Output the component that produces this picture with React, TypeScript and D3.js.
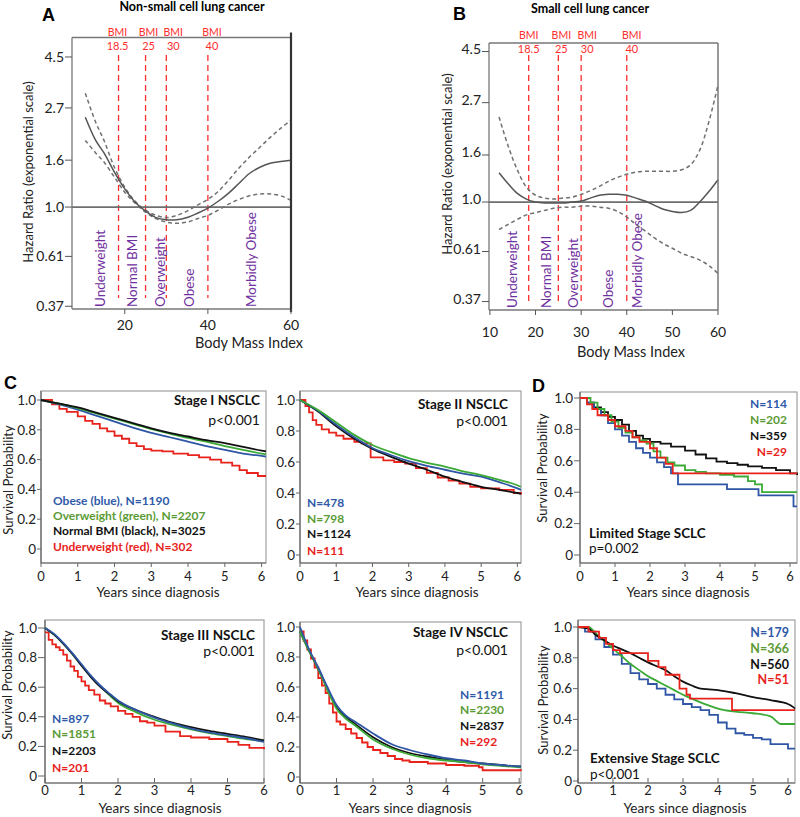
import React from "react";
import * as d3 from "d3";

const FONT = "Lato, 'Open Sans', 'DejaVu Sans', sans-serif";

// ---------------- Panels A / B: hazard ratio vs BMI ----------------
const hrTickValues = [0.37, 0.61, 1.0, 1.6, 2.7, 4.5];
const hrTickLabels = ["0.37", "0.61", "1.0", "1.6", "2.7", "4.5"];
const bmiTicksA = [20, 40, 60];
const bmiTicksB = [10, 20, 30, 40, 50, 60];
const bmiCutoffs = [18.5, 25, 30, 40];
const bmiCutoffLabels = ["18.5", "25", "30", "40"];
const bmiCategories = ["Underweight", "Normal BMI", "Overweight", "Obese", "Morbidly Obese"];
const categoryBmiA = [14.0, 21.9, 28.6, 35.6, 50.5];
const categoryBmiB = [14.8, 22.3, 28.2, 35.9, 42.3];

const nsclcBmi = [10.5, 13, 15, 17.5, 20, 22.5, 25, 27.5, 30, 32.5, 35, 37.5, 40, 42.5, 45, 47.5, 50, 52.5, 55, 57.5, 60];
const nsclcHr = [2.46, 1.95, 1.72, 1.42, 1.2, 1.05, 0.96, 0.9, 0.88, 0.88, 0.9, 0.94, 0.99, 1.06, 1.15, 1.27, 1.4, 1.49, 1.55, 1.58, 1.6];
const nsclcUpper = [3.13, 2.34, 1.95, 1.49, 1.22, 1.06, 0.97, 0.92, 0.9, 0.92, 0.96, 1.02, 1.08, 1.17, 1.31, 1.48, 1.65, 1.82, 2.01, 2.2, 2.39];
const nsclcLower = [1.95, 1.72, 1.57, 1.35, 1.16, 1.04, 0.95, 0.89, 0.86, 0.85, 0.86, 0.89, 0.92, 0.97, 1.03, 1.08, 1.12, 1.14, 1.14, 1.12, 1.07];

const sclcBmi = [12, 14, 16, 18, 20, 22, 24, 26, 28, 30, 32, 34, 36, 38, 40, 42, 44, 46, 48, 50, 52, 54, 56, 58, 60];
const sclcHr = [1.34, 1.2, 1.09, 1.03, 1.0, 0.99, 0.99, 0.99, 1.0, 1.01, 1.04, 1.07, 1.08, 1.08, 1.07, 1.04, 1.01, 0.97, 0.93, 0.91, 0.9, 0.92, 1.0, 1.11, 1.25];
const sclcUpper = [2.34, 1.75, 1.38, 1.16, 1.07, 1.04, 1.03, 1.04, 1.05, 1.08, 1.12, 1.17, 1.23, 1.28, 1.32, 1.35, 1.36, 1.36, 1.36, 1.36, 1.38, 1.45, 1.68, 2.23, 3.22];
const sclcLower = [0.76, 0.8, 0.84, 0.88, 0.9, 0.92, 0.94, 0.95, 0.95, 0.96, 0.96, 0.95, 0.94, 0.91, 0.86, 0.8, 0.75, 0.7, 0.66, 0.63, 0.6, 0.58, 0.56, 0.53, 0.49];

// ---------------- Panels C / D: Kaplan-Meier ----------------
const yearTicks = [0, 1, 2, 3, 4, 5, 6];
const survTicks = [0, 0.2, 0.4, 0.6, 0.8, 1.0];
const survTickLabels = ["0", "0.2", "0.4", "0.6", "0.8", "1.0"];

// Stage I NSCLC
const stage1Years = [0, 0.5, 1, 1.5, 2, 2.5, 3, 3.5, 4, 4.5, 5, 5.5, 6, 6.12];
const stage1Black = [1, 0.975, 0.95, 0.915, 0.88, 0.845, 0.81, 0.78, 0.755, 0.73, 0.71, 0.685, 0.66, 0.655];
const stage1Green = [1, 0.975, 0.945, 0.91, 0.875, 0.84, 0.805, 0.775, 0.745, 0.72, 0.69, 0.665, 0.64, 0.635];
const stage1Blue = [1, 0.97, 0.935, 0.895, 0.855, 0.815, 0.78, 0.75, 0.72, 0.69, 0.665, 0.64, 0.625, 0.62];
const stage1RedYears = [0, 0.3, 0.5, 0.7, 1.0, 1.2, 1.4, 1.6, 1.8, 2.0, 2.2, 2.4, 2.6, 2.8, 3.0, 3.3, 3.6, 4.0, 4.3, 4.6, 4.9, 5.2, 5.4, 5.6, 5.9, 6.12];
const stage1Red = [1, 0.97, 0.94, 0.92, 0.89, 0.86, 0.84, 0.81, 0.79, 0.76, 0.74, 0.71, 0.69, 0.67, 0.66, 0.655, 0.64, 0.63, 0.615, 0.6, 0.58, 0.56, 0.53, 0.51, 0.49, 0.49];

// Stage II NSCLC
const stage2Years = [0, 0.5, 1, 1.5, 2, 2.5, 3, 3.5, 4, 4.5, 5, 5.5, 6, 6.1];
const stage2Green = [1, 0.935, 0.855, 0.775, 0.71, 0.665, 0.625, 0.595, 0.57, 0.54, 0.515, 0.485, 0.45, 0.44];
const stage2Blue = [1, 0.93, 0.84, 0.76, 0.69, 0.645, 0.605, 0.575, 0.55, 0.525, 0.505, 0.47, 0.43, 0.42];
const stage2Black = [1, 0.925, 0.83, 0.75, 0.685, 0.635, 0.59, 0.55, 0.505, 0.47, 0.44, 0.42, 0.4, 0.395];
const stage2RedYears = [0, 0.15, 0.25, 0.35, 0.45, 0.6, 0.8, 1.0, 1.2, 1.5, 1.7, 1.95, 2.3, 2.6, 2.9, 3.2, 3.5, 3.8, 4.1, 4.4, 4.7, 5.0, 5.5, 5.9, 6.1];
const stage2Red = [1, 0.96, 0.92, 0.87, 0.84, 0.81, 0.79, 0.77, 0.75, 0.73, 0.72, 0.63, 0.61, 0.6, 0.59, 0.56, 0.53, 0.5, 0.48, 0.46, 0.44, 0.43, 0.42, 0.4, 0.39];

// Stage III NSCLC
const stage3Years = [0, 0.25, 0.5, 0.75, 1, 1.25, 1.5, 1.75, 2, 2.5, 3, 3.5, 4, 4.5, 5, 5.5, 6];
const stage3Blue = [1, 0.96, 0.9, 0.83, 0.755, 0.68, 0.615, 0.56, 0.51, 0.445, 0.395, 0.355, 0.32, 0.295, 0.275, 0.255, 0.23];
const stage3Green = [1, 0.955, 0.895, 0.825, 0.75, 0.675, 0.61, 0.55, 0.495, 0.43, 0.38, 0.345, 0.315, 0.29, 0.27, 0.25, 0.235];
const stage3Black = [1, 0.955, 0.895, 0.825, 0.745, 0.67, 0.605, 0.555, 0.505, 0.445, 0.4, 0.36, 0.33, 0.305, 0.285, 0.265, 0.24];
const stage3RedYears = [0, 0.1, 0.2, 0.3, 0.4, 0.5, 0.6, 0.7, 0.8, 0.9, 1.0, 1.1, 1.2, 1.35, 1.5, 1.65, 1.8, 2.0, 2.2, 2.4, 2.6, 2.8, 3.0, 3.3, 3.7, 4.0, 4.5, 5.0, 5.3, 5.6, 6.0];
const stage3Red = [0.97, 0.92, 0.89, 0.87, 0.85, 0.82, 0.78, 0.74, 0.71, 0.67, 0.64, 0.61, 0.58, 0.55, 0.51, 0.49, 0.47, 0.44, 0.42, 0.4, 0.37, 0.36, 0.34, 0.3, 0.27, 0.26, 0.25, 0.23, 0.21, 0.19, 0.18];

// Stage IV NSCLC
const stage4Years = [0, 0.25, 0.5, 0.75, 1, 1.25, 1.5, 2, 2.5, 3, 3.5, 4, 4.5, 5, 5.5, 6, 6.05];
const stage4Blue = [1, 0.85, 0.73, 0.6, 0.48, 0.41, 0.37, 0.29, 0.22, 0.18, 0.15, 0.125, 0.11, 0.09, 0.08, 0.07, 0.07];
const stage4Green = [0.97, 0.84, 0.72, 0.58, 0.455, 0.39, 0.345, 0.25, 0.19, 0.15, 0.125, 0.11, 0.1, 0.085, 0.075, 0.065, 0.065];
const stage4Black = [0.97, 0.84, 0.72, 0.59, 0.465, 0.4, 0.355, 0.265, 0.2, 0.16, 0.135, 0.115, 0.1, 0.09, 0.08, 0.07, 0.07];
const stage4RedYears = [0, 0.1, 0.2, 0.3, 0.4, 0.5, 0.6, 0.7, 0.8, 0.9, 1.0, 1.1, 1.25, 1.4, 1.55, 1.7, 1.85, 2.0, 2.2, 2.4, 2.6, 2.8, 3.0, 3.5, 4.0, 4.5, 4.9, 5.0, 6.05];
const stage4Red = [0.97, 0.91, 0.85, 0.79, 0.73, 0.66, 0.61, 0.56, 0.49, 0.43, 0.37, 0.35, 0.32, 0.29, 0.26, 0.23, 0.2, 0.18, 0.16, 0.14, 0.12, 0.11, 0.1, 0.09, 0.08, 0.075, 0.065, 0.045, 0.04];

// Limited stage SCLC
const limitedBlackYears = [0, 0.2, 0.4, 0.6, 0.8, 1.0, 1.2, 1.4, 1.6, 1.8, 2.0, 2.3, 2.6, 3.0, 3.3, 3.6, 3.9, 4.2, 4.5, 4.8, 5.2, 5.6, 6.0, 6.2];
const limitedBlack = [1, 0.97, 0.94, 0.91, 0.88, 0.86, 0.83, 0.79, 0.76, 0.74, 0.72, 0.71, 0.69, 0.665, 0.64, 0.615, 0.595, 0.585, 0.575, 0.565, 0.555, 0.54, 0.52, 0.51];
const limitedRedYears = [0, 0.2, 0.35, 0.5, 0.8, 1.0, 1.3, 1.5, 1.7, 2.0, 2.2, 2.45, 2.65, 6.2];
const limitedRed = [1, 0.96, 0.93, 0.89, 0.86, 0.82, 0.79, 0.75, 0.72, 0.68, 0.62, 0.58, 0.52, 0.52];
const limitedGreenYears = [0, 0.3, 0.5, 0.7, 0.9, 1.1, 1.3, 1.5, 1.7, 1.9, 2.1, 2.3, 2.5, 2.7, 3.0, 3.3, 3.6, 4.0, 4.4, 4.8, 5.0, 5.2, 6.2];
const limitedGreen = [1, 0.97, 0.93, 0.89, 0.85, 0.81, 0.78, 0.75, 0.73, 0.71, 0.66, 0.62, 0.59, 0.57, 0.54, 0.53, 0.52, 0.51, 0.5, 0.47, 0.45, 0.4, 0.4];
const limitedBlueYears = [0, 0.2, 0.4, 0.6, 0.8, 1.0, 1.2, 1.4, 1.6, 1.8, 2.0, 2.2, 2.4, 2.6, 2.8, 4.2, 5.1, 6.1, 6.2];
const limitedBlue = [1, 0.97, 0.93, 0.89, 0.84, 0.8, 0.76, 0.72, 0.68, 0.65, 0.62, 0.59, 0.56, 0.52, 0.45, 0.42, 0.38, 0.31, 0.31];

// Extensive stage SCLC
const extBlackYears = [0, 0.3, 0.5, 0.7, 1, 1.25, 1.5, 1.75, 2, 2.25, 2.5, 2.75, 3, 3.25, 3.5, 3.75, 4, 4.5, 5, 5.5, 6, 6.15, 6.2];
const extBlack = [1, 0.99, 0.95, 0.92, 0.88, 0.855, 0.83, 0.8, 0.77, 0.745, 0.72, 0.68, 0.645, 0.62, 0.6, 0.595, 0.59, 0.57, 0.545, 0.525, 0.5, 0.48, 0.47];
const extRedYears = [0, 0.3, 0.6, 0.8, 1.0, 1.2, 2.0, 2.3, 2.5, 2.9, 3.1, 3.2, 4.4, 6.2];
const extRed = [1, 0.97, 0.93, 0.89, 0.85, 0.83, 0.78, 0.74, 0.69, 0.6, 0.56, 0.535, 0.46, 0.46];
const extGreenYears = [0, 0.3, 0.5, 0.75, 1, 1.25, 1.5, 1.75, 2, 2.25, 2.5, 2.75, 3, 3.25, 3.5, 3.75, 4, 4.5, 5, 5.5, 5.8, 6.2];
const extGreen = [1, 1, 0.96, 0.91, 0.86, 0.81, 0.76, 0.72, 0.68, 0.65, 0.62, 0.59, 0.56, 0.535, 0.51, 0.49, 0.47, 0.45, 0.44, 0.42, 0.37, 0.37];
const extBlueYears = [0, 0.2, 0.5, 0.75, 1, 1.25, 1.5, 1.75, 2, 2.25, 2.5, 2.75, 3, 3.25, 3.5, 3.75, 4, 4.25, 4.5, 4.75, 5, 5.25, 5.5, 6, 6.2];
const extBlue = [1, 0.97, 0.92, 0.87, 0.82, 0.76, 0.7, 0.66, 0.63, 0.6, 0.56, 0.53, 0.5, 0.48, 0.46, 0.43, 0.38, 0.34, 0.31, 0.3, 0.28, 0.27, 0.24, 0.21, 0.21];

// ---------------- styles ----------------
const C_BLUE = "#2f56a5";
const C_GREEN = "#3aa935";
const C_BLACK = "#111111";
const C_RED = "#e8231c";
const T_BLUE = "#2f5aa8";
const T_GREEN = "#5b9b35";
const T_RED = "#e8231c";
const PURPLE = "#7030a0";
const BMI_RED = "#ff2e2e";

const zip = (a: number[], b: number[]) => a.map((v, i) => [v, b[i]] as [number, number]);

type HazSpec = {
  left: number; right: number; top: number; bottom: number;
  xDomain: [number, number]; yDomain: [number, number];
  xTicks: number[]; bmi: number[]; hr: number[]; upper: number[]; lower: number[];
  catPos: number[]; bmiLabelY: number; cutTop: number; cutBottom: number; labelDx: number[];
  tickLabelDy: number; xLabelY: number; xTitleX: number; xTitleY: number;
  yTitleX: number; yTitleY: number; thickRight: boolean;
};

function HazardPanel({ s }: { s: HazSpec }) {
  const x = d3.scaleLinear().domain(s.xDomain).range([s.left, s.right]);
  const y = d3.scaleLog().domain(s.yDomain).range([s.bottom, s.top]);
  const line = d3.line<[number, number]>().x(d => x(d[0])).y(d => y(d[1])).curve(d3.curveCatmullRom);
  return (
    <g>
      {bmiCutoffs.map((c, i) => (
        <g key={"c" + i}>
          <line x1={x(c)} x2={x(c)} y1={s.cutTop} y2={s.cutBottom} stroke={BMI_RED} strokeWidth={1.3} strokeDasharray="6,4" />
          <text x={x(c) + s.labelDx[i]} y={s.bmiLabelY} textAnchor="middle" fontSize={10.5} fill={BMI_RED}>BMI</text>
          <text x={x(c) + s.labelDx[i]} y={s.bmiLabelY + 14} textAnchor="middle" fontSize={11} fill={BMI_RED}>{bmiCutoffLabels[i]}</text>
        </g>
      ))}
      {bmiCategories.map((t, i) => (
        <text key={"k" + i} transform={`translate(${x(s.catPos[i])},${s.bottom - 2}) rotate(-90)`} dy="0.35em" fontSize={13.5} fill={PURPLE}>{t}</text>
      ))}
      <line x1={s.left} x2={s.right} y1={y(1)} y2={y(1)} stroke="#6e6e6e" strokeWidth={1.8} />
      <path d={line(zip(s.bmi, s.upper)) || ""} fill="none" stroke="#707070" strokeWidth={1.5} strokeDasharray="4,3" />
      <path d={line(zip(s.bmi, s.lower)) || ""} fill="none" stroke="#707070" strokeWidth={1.5} strokeDasharray="4,3" />
      <path d={line(zip(s.bmi, s.hr)) || ""} fill="none" stroke="#555" strokeWidth={1.5} />
      <line x1={s.left} x2={s.right} y1={s.top} y2={s.top} stroke="#777" strokeWidth={1.3} />
      <line x1={s.left} x2={s.left} y1={s.top} y2={s.bottom} stroke="#777" strokeWidth={1.3} />
      <line x1={s.left} x2={s.right} y1={s.bottom} y2={s.bottom} stroke="#777" strokeWidth={1.3} />
      <line x1={s.right} x2={s.right} y1={s.thickRight ? s.top - 5 : s.top} y2={s.bottom + (s.thickRight ? 3 : 0)} stroke={s.thickRight ? "#333" : "#777"} strokeWidth={s.thickRight ? 2.2 : 1.5} />
      {hrTickValues.map((v, i) => (
        <g key={"y" + i}>
          <line x1={s.left - 7} x2={s.left} y1={y(v)} y2={y(v)} stroke="#555" />
          <text x={s.left - 8} y={y(v) + s.tickLabelDy} textAnchor="end" fontSize={14} fill="#222">{hrTickLabels[i]}</text>
        </g>
      ))}
      {s.xTicks.map((v, i) => (
        <g key={"x" + i}>
          <line x1={x(v)} x2={x(v)} y1={s.bottom} y2={s.bottom + 5} stroke="#555" />
          <text x={x(v)} y={s.xLabelY} textAnchor="middle" fontSize={14} fill="#222">{v}</text>
        </g>
      ))}
      <text x={s.xTitleX} y={s.xTitleY} textAnchor="middle" fontSize={14.5} fill="#222">Body Mass Index</text>
      <text transform={`translate(${s.yTitleX},${s.yTitleY}) rotate(-90)`} textAnchor="middle" dy="0.35em" fontSize={13} fill="#222">Hazard Ratio (exponential scale)</text>
    </g>
  );
}

type Curve = { years: number[]; surv: number[]; color: string; step: boolean };
type Label = { text: string; x: number; y: number; anchor?: "start" | "end" | "middle"; bold?: boolean; size?: number; color?: string };
type KMSpec = {
  left: number; right: number; top: number; bottom: number; y1: number; y0: number; xMax: number;
  row: "top" | "bottom"; xTitleX: number; yTitle?: [number, number]; curves: Curve[]; labels: Label[];
  yLabelRight: number;
};

function KMPanel({ s }: { s: KMSpec }) {
  const x = d3.scaleLinear().domain([0, s.xMax]).range([s.left, s.right]);
  const y = d3.scaleLinear().domain([0, 1]).range([s.y0, s.y1]);
  const isTop = s.row === "top";
  const tickLabelY = isTop ? s.bottom + 18 : s.bottom + 12;
  const titleY = isTop ? s.bottom + 34 : s.bottom + 30;
  return (
    <g>
      <rect x={s.left} y={s.top} width={s.right - s.left} height={s.bottom - s.top} fill="none" stroke="#a0a0a0" strokeWidth={1.2} />
      <line x1={s.left} x2={s.left} y1={s.top} y2={s.bottom} stroke="#666" strokeWidth={1.2} />
      <line x1={s.left} x2={s.right} y1={s.bottom} y2={s.bottom} stroke="#666" strokeWidth={1.2} />
      {survTicks.map((v, i) => (
        <g key={"y" + i}>
          <line x1={s.yLabelRight + 1} x2={s.left} y1={y(v)} y2={y(v)} stroke="#666" />
          <text x={s.yLabelRight} y={y(v)} dy="0.35em" textAnchor="end" fontSize={13.5} fill="#222">{survTickLabels[i]}</text>
        </g>
      ))}
      {yearTicks.map((v, i) => (
        <g key={"x" + i}>
          <line x1={x(v)} x2={x(v)} y1={s.bottom} y2={isTop ? s.bottom + 4 : s.bottom - 5} stroke="#666" />
          <text x={x(v)} y={tickLabelY} textAnchor="middle" fontSize={13} fill="#222">{v}</text>
        </g>
      ))}
      <text x={s.xTitleX} y={titleY} textAnchor="middle" fontSize={13.5} fill="#222">Years since diagnosis</text>
      {s.yTitle && (
        <text transform={`translate(${s.yTitle[0]},${s.yTitle[1]}) rotate(-90)`} textAnchor="middle" dy="0.35em" fontSize={13} fill="#222">Survival Probability</text>
      )}
      {s.curves.map((c, i) => {
        const gen = d3.line<[number, number]>().x(d => x(d[0])).y(d => y(d[1])).curve(c.step ? d3.curveStepAfter : d3.curveMonotoneX);
        return <path key={"c" + i} d={gen(zip(c.years, c.surv)) || ""} fill="none" stroke={c.color} strokeWidth={1.8} />;
      })}
      {s.labels.map((l, i) => (
        <text key={"l" + i} x={l.x} y={l.y} textAnchor={l.anchor || "start"} fontWeight={l.bold ? 700 : 400} fontSize={l.size || 12} fill={l.color || "#111"}>{l.text}</text>
      ))}
    </g>
  );
}

const hazA: HazSpec = {
  left: 72, right: 291, top: 37.5, bottom: 309, xDomain: [7.3, 60], yDomain: [0.36, 5.47],
  xTicks: bmiTicksA, bmi: nsclcBmi, hr: nsclcHr, upper: nsclcUpper, lower: nsclcLower,
  catPos: categoryBmiA, bmiLabelY: 36, cutTop: 55, cutBottom: 298, labelDx: [-1, 3, 7, 4], tickLabelDy: 5,
  xLabelY: 330, xTitleX: 249, xTitleY: 348, yTitleX: 28, yTitleY: 172, thickRight: true,
};
const hazB: HazSpec = {
  left: 489, right: 718, top: 43, bottom: 310, xDomain: [9.8, 60], yDomain: [0.34, 4.9],
  xTicks: bmiTicksB, bmi: sclcBmi, hr: sclcHr, upper: sclcUpper, lower: sclcLower,
  catPos: categoryBmiB, bmiLabelY: 39, cutTop: 55, cutBottom: 303, labelDx: [0, 3, 6, 5], tickLabelDy: 2,
  xLabelY: 337, xTitleX: 631, xTitleY: 357, yTitleX: 447, yTitleY: 164, thickRight: false,
};

const bold = (text: string, x: number, y: number, color: string, anchor: "start" | "end" = "start", size = 12): Label => ({ text, x, y, color, anchor, bold: true, size });

const kmPanels: KMSpec[] = [
  {
    left: 41, right: 266, top: 391, bottom: 563, y1: 400, y0: 549, xMax: 6.12, row: "top", xTitleX: 158, yTitle: [8, 480], yLabelRight: 36,
    curves: [
      { years: stage1RedYears, surv: stage1Red, color: C_RED, step: true },
      { years: stage1Years, surv: stage1Blue, color: C_BLUE, step: false },
      { years: stage1Years, surv: stage1Green, color: C_GREEN, step: false },
      { years: stage1Years, surv: stage1Black, color: C_BLACK, step: false },
    ],
    labels: [
      bold("Stage I NSCLC", 260, 405, "#111", "end", 13.5),
      { text: "p<0.001", x: 260, y: 425, anchor: "end", size: 14 },
      bold("Obese (blue), N=1190", 53, 505, T_BLUE),
      bold("Overweight (green), N=2207", 53, 520, T_GREEN),
      bold("Normal BMI (black), N=3025", 53, 535, "#111"),
      bold("Underweight (red), N=302", 53, 551, T_RED),
    ],
  },
  {
    left: 300, right: 521, top: 391, bottom: 563, y1: 400, y0: 555, xMax: 6.1, row: "top", xTitleX: 417, yLabelRight: 295,
    curves: [
      { years: stage2RedYears, surv: stage2Red, color: C_RED, step: true },
      { years: stage2Years, surv: stage2Black, color: C_BLACK, step: false },
      { years: stage2Years, surv: stage2Blue, color: C_BLUE, step: false },
      { years: stage2Years, surv: stage2Green, color: C_GREEN, step: false },
    ],
    labels: [
      bold("Stage II NSCLC", 508, 409, "#111", "end", 13.5),
      { text: "p<0.001", x: 508, y: 426, anchor: "end", size: 14 },
      bold("N=478", 307, 507, T_BLUE),
      bold("N=798", 307, 523, T_GREEN),
      bold("N=1124", 307, 538, "#111"),
      bold("N=111", 307, 555, T_RED),
    ],
  },
  {
    left: 580, right: 797, top: 392, bottom: 563, y1: 398, y0: 555, xMax: 6.2, row: "top", xTitleX: 688, yTitle: [542, 468], yLabelRight: 573,
    curves: [
      { years: limitedBlackYears, surv: limitedBlack, color: C_BLACK, step: true },
      { years: limitedBlueYears, surv: limitedBlue, color: C_BLUE, step: true },
      { years: limitedGreenYears, surv: limitedGreen, color: C_GREEN, step: true },
      { years: limitedRedYears, surv: limitedRed, color: C_RED, step: true },
    ],
    labels: [
      bold("N=114", 787, 408, T_BLUE, "end"),
      bold("N=202", 787, 424, T_GREEN, "end"),
      bold("N=359", 787, 440, "#111", "end"),
      bold("N=29", 787, 456, T_RED, "end"),
      bold("Limited Stage SCLC", 589, 538, "#111", "start", 13.5),
      { text: "p=0.002", x: 589, y: 553, size: 13.5 },
    ],
  },
  {
    left: 45, right: 264, top: 620, bottom: 783, y1: 628, y0: 776, xMax: 6.0, row: "bottom", xTitleX: 160, yTitle: [7, 685], yLabelRight: 37,
    curves: [
      { years: stage3RedYears, surv: stage3Red, color: C_RED, step: true },
      { years: stage3Years, surv: stage3Green, color: C_GREEN, step: false },
      { years: stage3Years, surv: stage3Black, color: C_BLACK, step: false },
      { years: stage3Years, surv: stage3Blue, color: C_BLUE, step: false },
    ],
    labels: [
      bold("Stage III NSCLC", 255, 640, "#111", "end", 13.5),
      { text: "p<0.001", x: 255, y: 656, anchor: "end", size: 14 },
      bold("N=897", 52, 723, T_BLUE),
      bold("N=1851", 52, 738, T_GREEN),
      bold("N=2203", 52, 755, "#111"),
      bold("N=201", 52, 772, T_RED),
    ],
  },
  {
    left: 300, right: 521, top: 622, bottom: 783, y1: 627, y0: 777, xMax: 6.05, row: "bottom", xTitleX: 410, yLabelRight: 295,
    curves: [
      { years: stage4RedYears, surv: stage4Red, color: C_RED, step: true },
      { years: stage4Years, surv: stage4Black, color: C_BLACK, step: false },
      { years: stage4Years, surv: stage4Green, color: C_GREEN, step: false },
      { years: stage4Years, surv: stage4Blue, color: C_BLUE, step: false },
    ],
    labels: [
      bold("Stage IV NSCLC", 508, 637, "#111", "end", 13.5),
      { text: "p<0.001", x: 508, y: 655, anchor: "end", size: 14 },
      bold("N=1191", 460, 699, T_BLUE),
      bold("N=2230", 460, 714, T_GREEN),
      bold("N=2837", 460, 730, "#111"),
      bold("N=292", 460, 746, T_RED),
    ],
  },
  {
    left: 578, right: 795, top: 620, bottom: 783, y1: 627, y0: 781, xMax: 6.2, row: "bottom", xTitleX: 685, yTitle: [543, 700], yLabelRight: 572,
    curves: [
      { years: extBlueYears, surv: extBlue, color: C_BLUE, step: true },
      { years: extGreenYears, surv: extGreen, color: C_GREEN, step: false },
      { years: extBlackYears, surv: extBlack, color: C_BLACK, step: false },
      { years: extRedYears, surv: extRed, color: C_RED, step: true },
    ],
    labels: [
      bold("N=179", 789, 637, T_BLUE, "end", 12.5),
      bold("N=366", 789, 653, T_GREEN, "end", 12.5),
      bold("N=560", 789, 669, "#111", "end", 12.5),
      bold("N=51", 789, 684, T_RED, "end", 12.5),
      bold("Extensive Stage SCLC", 590, 763, "#111", "start", 13.5),
      { text: "p<0.001", x: 590, y: 779, size: 13.5 },
    ],
  },
];

export default function App() {
  return (
    <svg width={800} height={817} viewBox="0 0 800 817" style={{ position: "absolute", left: 0, top: 0, background: "#fff" }} fontFamily={FONT}>
      <rect x={0} y={0} width={800} height={817} fill="#fff" />
      <text x={42} y={21} fontSize={18} fontWeight={700} fontFamily="'Liberation Sans', Arial, sans-serif">A</text>
      <text x={192} y={11} textAnchor="middle" fontSize={12.5} fontWeight={700}>Non-small cell lung cancer</text>
      <text x={453} y={20} fontSize={18} fontWeight={700} fontFamily="'Liberation Sans', Arial, sans-serif">B</text>
      <text x={590} y={13} textAnchor="middle" fontSize={12.5} fontWeight={700}>Small cell lung cancer</text>
      <text x={4} y={389} fontSize={18} fontWeight={700} fontFamily="'Liberation Sans', Arial, sans-serif">C</text>
      <text x={532} y={392} fontSize={18} fontWeight={700} fontFamily="'Liberation Sans', Arial, sans-serif">D</text>
      <HazardPanel s={hazA} />
      <HazardPanel s={hazB} />
      {kmPanels.map((p, i) => <KMPanel key={i} s={p} />)}
    </svg>
  );
}
